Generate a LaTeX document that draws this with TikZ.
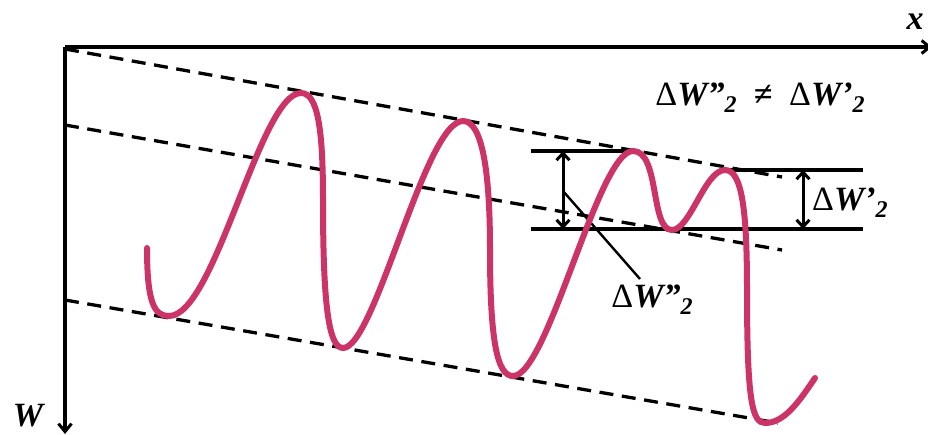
\documentclass[tikz,border=0pt]{standalone}
\usepackage{fontspec}
\setmainfont{Liberation Serif}
\usetikzlibrary{arrows.meta}
\newcommand{\dlt}{{\mdseries\upshape Δ}}
\newcommand{\sub}[1]{\raisebox{-0.2em}{\fontsize{24}{25}\selectfont #1}}
\newcommand{\dWone}{\dlt\textbf{\textit{W’\sub{2}}}}
\newcommand{\dWtwo}{\dlt\textbf{\textit{W”\sub{2}}}}
\begin{document}
\begin{tikzpicture}[x=1pt,y=-1pt,
  every node/.style={font=\fontsize{34}{36}\selectfont\bfseries\itshape,inner sep=0pt},
  axis/.style={line width=3.5pt,-{Straight Barb[length=8pt,width=13pt,line width=3pt]}},
  guide/.style={line width=3.3pt,dash pattern=on 14pt off 8.6pt},
  level/.style={line width=3.3pt},
  dim/.style={line width=3pt,{Straight Barb[length=7pt,width=13pt]}-{Straight Barb[length=7pt,width=13pt]}},
  leader/.style={line width=2.4pt},
  wave/.style={line width=6pt,color=wavecol,line cap=round}]
\definecolor{wavecol}{HTML}{CC3366}
\useasboundingbox (0,0) rectangle (928,434);
% axes
\coordinate (o) at (65,47);
\coordinate (xend) at (932,47);
\coordinate (wend) at (65,434);
\draw[axis] (o) -- (xend);
\draw[axis] (o) -- (wend);
\node (xlab) at (915,22) {x};
\node (wlab) at (28,416) {W};
% dashed envelopes
\coordinate (g1a) at (65,49);  \coordinate (g1b) at (782,177);
\coordinate (g2a) at (65,125); \coordinate (g2b) at (782,250);
\coordinate (g3a) at (65,300); \coordinate (g3b) at (778,423);
\draw[guide] (g1a) -- (g1b);
\draw[guide] (g2a) -- (g2b);
\draw[guide] (g3a) -- (g3b);
% levels
\coordinate (l1a) at (531,151); \coordinate (l1b) at (633,151);
\coordinate (l2a) at (531,229); \coordinate (l2b) at (863,229);
\coordinate (l3a) at (725,170); \coordinate (l3b) at (863,170);
\draw[level] (l1a) -- (l1b);
\draw[level] (l2a) -- (l2b);
\draw[level] (l3a) -- (l3b);
% dimension arrows
\coordinate (d1t) at (563,151); \coordinate (d1b) at (563,229);
\coordinate (d2t) at (803,170); \coordinate (d2b) at (803,229);
\draw[dim] (d1t) -- (d1b);
\draw[dim] (d2t) -- (d2b);
\node[anchor=west] (dwa) at (812,203) {\dWone};
\node (dwb) at (652,300) {\dWtwo};
\coordinate (ld) at (563,191);
\draw[leader] (ld) -- (640,279);
\node (neq) at (760,98) {\dWtwo\enspace≠\enspace\dWone};
% wave
\draw[wave] (147,248) .. controls (147,305) and (155,316) .. (169,316)
  .. controls (215,316) and (260,93) .. (301,93)
  .. controls (318,93) and (323,130) .. (323,200)
  .. controls (323,300) and (328,348) .. (343,348)
  .. controls (375,348) and (425,121) .. (463,121)
  .. controls (482,121) and (490,170) .. (490,250)
  .. controls (490,340) and (497,376) .. (513,376)
  .. controls (548,376) and (598,151) .. (633,151)
  .. controls (660,151) and (650,230) .. (672,230)
  .. controls (690,230) and (705,170) .. (725,170)
  .. controls (742,170) and (747,210) .. (747,290)
  .. controls (747,400) and (752,423) .. (765,423)
  .. controls (785,423) and (800,400) .. (815,378);
\end{tikzpicture}
\end{document}
